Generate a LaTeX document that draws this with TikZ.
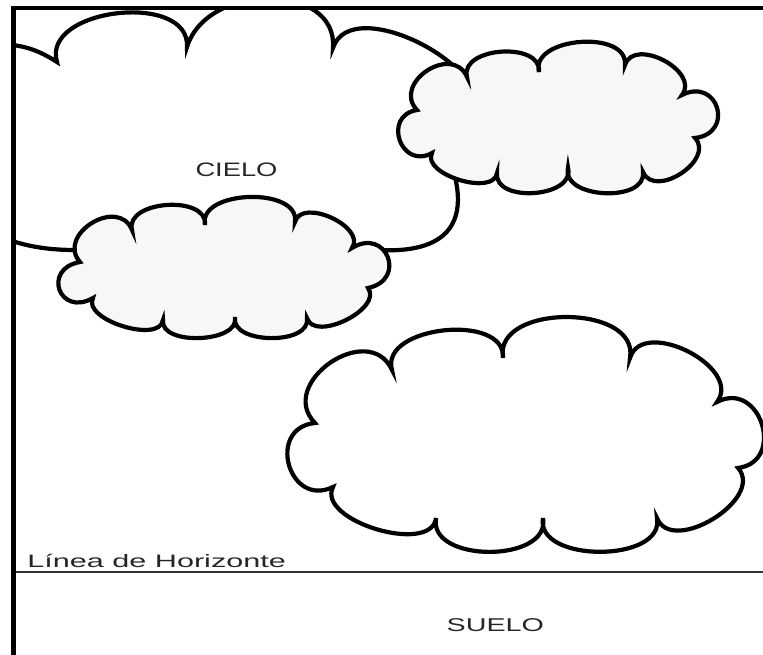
\documentclass[tikz,border=0pt]{standalone}
\usepackage{fontspec}
\setmainfont{Liberation Sans}
\usepackage{tikz}
\tikzset{
nube/.style={draw=black,line width=4.2pt,fill=white},
nube gris/.style={nube,fill=black!3},
lobo/.style={bend left=100,looseness=#1},
marco/.style={draw=black,line width=3.5pt},
linea horizonte/.style={draw=black!80,line width=1.6pt},
rotulo/.style={inner sep=0pt,text=black!85,font=\fontsize{19.5}{21}\selectfont}}

\begin{document}
\begin{tikzpicture}[x=1pt,y=-1pt]

\useasboundingbox[fill=white] (0,0) rectangle (763,655);

\begin{scope}
\clip (13.5,8) rectangle (763,655);
\draw[nube] (0,44) to[bend left=15] (57,62) to[lobo=1.1] (187,47) .. controls (207,-18) and (338,-18) .. (333,48)
  to[lobo=1.0] (470,120) to[bend left=30] (450,160) .. controls (480,245) and (420,258) .. (350,247)
  -- (75,250) .. controls (40,250) and (20,244) .. (0,237) -- (-10,237) -- (-10,44) -- cycle;
\end{scope}

\draw[nube gris] (132,230) to[lobo=1.07] (205,225) to[lobo=1.02] (295,222) to[lobo=1.05] (352,248)
  to[lobo=2.4] (368,288) to[lobo=0.97] (307,318) to[lobo=0.99] (235,317) to[lobo=0.94] (163,320)
  to[lobo=0.85] (93,298) to[lobo=2.6] (80,262) to[lobo=1.53] (132,230) -- cycle;

\draw[nube gris] (467,77) to[lobo=1.1] (539,72) to[lobo=1.07] (625,65) to[lobo=1.19] (682,95)
  to[lobo=2.3] (695,138) to[lobo=1.23] (643,172) to[lobo=1.07] (568,168) to[lobo=1.1] (497,173)
  to[lobo=0.9] (432,153) to[lobo=2.0] (417,110) to[lobo=1.58] (467,77) -- cycle;

\draw[nube] (392,370) to[lobo=1.05] (503,358) to[lobo=1.12] (630,358) to[lobo=1.14] (717,402)
  to[lobo=1.8] (738,468) to[lobo=1.1] (657,518) to[lobo=1.03] (543,518) to[lobo=1.1] (436,518)
  to[lobo=0.9] (333,487) to[lobo=1.9] (315,423) to[lobo=1.52] (392,370) -- cycle;

\draw[marco] (11,8) -- (763,8);
\draw[marco,line width=5pt] (13.5,8) -- (13.5,655);
\draw[linea horizonte] (16,572) -- (763,572);

\node[rotulo,xscale=1.4] (cielo) at (236.5,169.7) {CIELO};
\node[rotulo,xscale=1.55,font=\fontsize{18.5}{20}\selectfont] (suelo) at (495.3,624.7) {SUELO};
\node[rotulo,anchor=base west,xscale=1.7,font=\fontsize{18}{20}\selectfont] (horizonte) at (27,567.5) {Línea de Horizonte};

\end{tikzpicture}
\end{document}
